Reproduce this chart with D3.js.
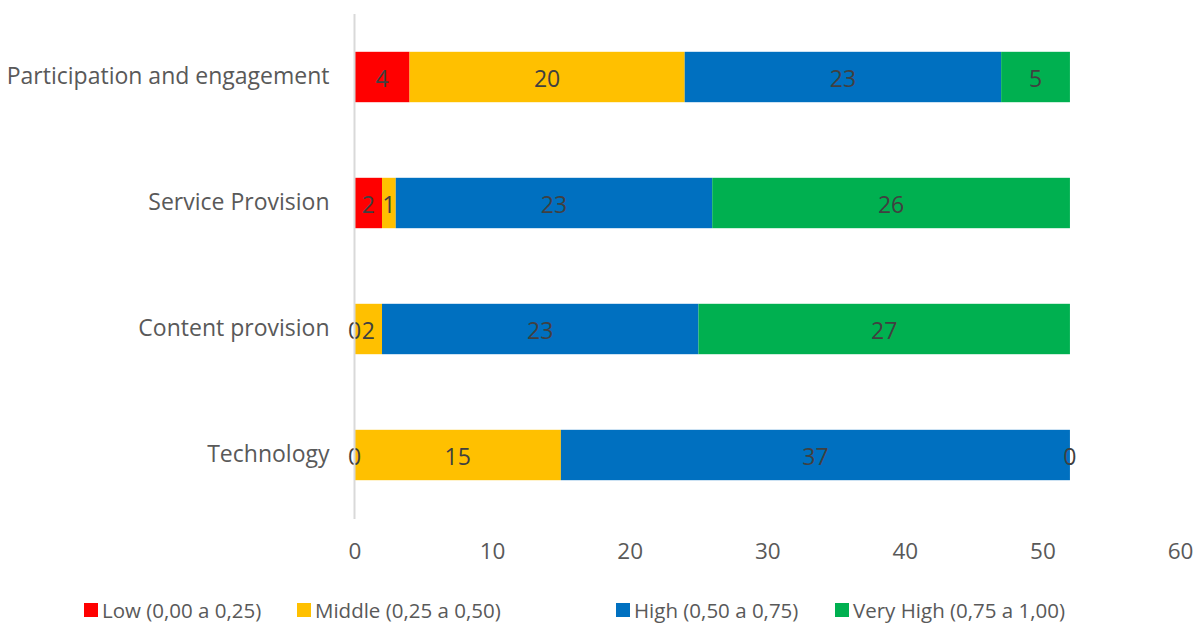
<!DOCTYPE html>
<html>
<head>
<meta charset="utf-8">
<script src="https://cdn.jsdelivr.net/npm/d3@7"></script>
<style>
  html, body { margin: 0; padding: 0; background: #fff; }
  svg { display: block; font-family: "Open Sans", sans-serif; }
</style>
</head>
<body>
<svg id="chart" width="1197" height="623"></svg>
<script>
// Categories, top to bottom
const categories = ["Participation and engagement", "Service Provision", "Content provision", "Technology"];
// Series (stack order left to right)
const seriesNames = ["Low (0,00 a 0,25)", "Middle (0,25 a 0,50)", "High (0,50 a 0,75)", "Very High (0,75 a 1,00)"];
const seriesColors = ["#ff0000", "#ffc000", "#0070c0", "#00b050"];
const low      = [4, 2, 0, 0];
const middle   = [20, 1, 2, 15];
const high     = [23, 23, 23, 37];
const veryHigh = [5, 26, 27, 0];
const xTicks = [0, 10, 20, 30, 40, 50, 60];

const svg = d3.select("#chart");
const margin = { left: 354.5, right: 17, top: 14, bottom: 105 };
const W = 1197, H = 623;

const rows = categories.map((c, i) => ({
  category: c,
  s0: low[i], s1: middle[i], s2: high[i], s3: veryHigh[i]
}));
const keys = ["s0", "s1", "s2", "s3"];
const stacked = d3.stack().keys(keys)(rows);

const x = d3.scaleLinear().domain([0, 60]).range([margin.left, W - margin.right]);
const y = d3.scaleBand().domain(categories).range([margin.top, H - margin.bottom]).paddingInner(0.6).paddingOuter(0.3);

// Bars
const layer = svg.append("g").selectAll("g").data(stacked).join("g")
  .attr("fill", (d, i) => seriesColors[i]);
layer.selectAll("rect").data(d => d).join("rect")
  .attr("x", d => x(d[0]))
  .attr("y", d => y(d.data.category))
  .attr("width", d => x(d[1]) - x(d[0]))
  .attr("height", y.bandwidth());

// Value labels centred on each segment (zeros included)
const labels = svg.append("g");
stacked.forEach((s) => {
  s.forEach(d => {
    labels.append("text")
      .attr("x", (x(d[0]) + x(d[1])) / 2)
      .attr("y", y(d.data.category) + y.bandwidth() / 2 + 0.5)
      .attr("text-anchor", "middle")
      .attr("dominant-baseline", "central")
      .attr("font-size", 23)
      .attr("fill", "#404040")
      .text(d[1] - d[0]);
  });
});

// Vertical category axis line
svg.append("line")
  .attr("x1", x(0)).attr("x2", x(0))
  .attr("y1", margin.top).attr("y2", H - margin.bottom + 1)
  .attr("stroke", "#d9d9d9").attr("stroke-width", 2);

// Category labels
const yAxis = d3.axisLeft(y).tickSize(0).tickPadding(25);
const yg = svg.append("g").attr("transform", `translate(${x(0)},0)`).call(yAxis);
yg.select(".domain").remove();
yg.selectAll("text").attr("font-size", 23).attr("fill", "#595959")
  .attr("font-family", "Open Sans, sans-serif");

// Value axis ticks (labels only)
const xAxis = d3.axisBottom(x).tickValues(xTicks).tickSize(0).tickPadding(0);
const xg = svg.append("g").attr("transform", `translate(0,${H - margin.bottom + 25.5})`).call(xAxis);
xg.select(".domain").remove();
xg.selectAll("text").attr("font-size", 22.5).attr("fill", "#595959")
  .attr("font-family", "Open Sans, sans-serif");

// Legend
const legendX = [84, 297, 616, 835];
const lg = svg.append("g").attr("transform", "translate(0,610)");
seriesNames.forEach((name, i) => {
  lg.append("rect").attr("x", legendX[i]).attr("y", -7).attr("width", 14).attr("height", 14)
    .attr("fill", seriesColors[i]);
  lg.append("text").attr("x", legendX[i] + 18).attr("y", 0)
    .attr("dominant-baseline", "central")
    .attr("font-size", 20.5).attr("fill", "#595959")
    .text(name);
});
</script>
</body>
</html>
